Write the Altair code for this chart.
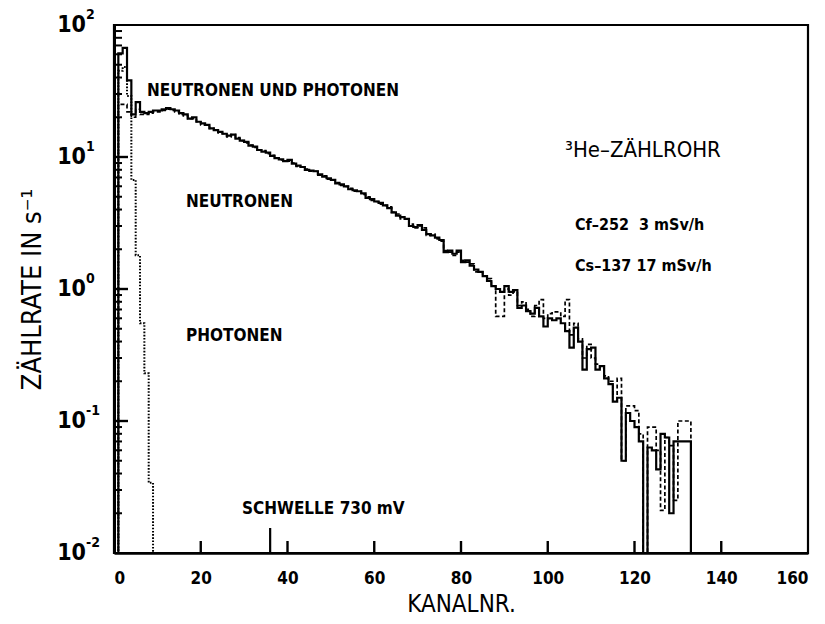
import altair as alt
import pandas as pd

# Pulse-height spectra of a 3He proportional counter (counts per second per channel)
# Bin i covers channels [i, i+1).
neutrons_and_photons = [
    0, 61, 67, 38, 21, 26, 22, 21.5, 22, 22.5,
    22.5, 23, 23.5, 23, 22.5, 21.5, 21, 19.5, 20, 18.5,
    18, 17.5, 16.5, 16, 15.5, 15, 14.5, 14.8, 13.8, 13.3,
    13, 12.2, 12, 11.3, 11, 10.8, 10.2, 9.8, 9.6, 9.3,
    9.5, 8.9, 8.6, 8.4, 8.0, 7.9, 7.8, 7.4, 7.1, 6.9,
    6.7, 6.3, 6.2, 6.0, 5.7, 5.6, 5.5, 5.3, 4.9, 4.8,
    4.6, 4.5, 4.3, 4.1, 3.8, 3.6, 3.5, 3.4, 3.0, 2.95,
    3.05, 2.8, 2.6, 2.55, 2.45, 2.35, 1.9, 1.95, 1.85, 1.95,
    1.6, 1.65, 1.5, 1.4, 1.35, 1.25, 1.15, 1.05, 1.0, 0.95,
    1.05, 0.95, 0.98, 0.72, 0.75, 0.68, 0.65, 0.72, 0.62, 0.52,
    0.6, 0.58, 0.6, 0.55, 0.48, 0.36, 0.51, 0.4, 0.245, 0.35,
    0.36, 0.245, 0.26, 0.21, 0.19, 0.14, 0.15, 0.05, 0.115, 0.1,
    0.09, 0.07, 0, 0.063, 0.06, 0.043, 0.08, 0.075, 0.02, 0.07,
    0.07, 0.07, 0.07,
]

neutrons_only = [
    0, 25, 25, 22, 20, 23, 21, 21, 21.5, 22,
    22, 22.5, 23, 22.5, 22, 21, 20.5, 19.5, 19.5, 18.5,
    17.5, 17.5, 16.5, 16, 15.2, 15, 14.2, 14.8, 14, 13.3,
    12.8, 12.3, 11.8, 11.3, 11.2, 10.6, 10.3, 9.8, 9.5, 9.4,
    9.3, 9.0, 8.5, 8.4, 8.1, 7.8, 7.8, 7.3, 7.2, 6.8,
    6.7, 6.4, 6.1, 6.0, 5.8, 5.5, 5.5, 5.2, 5.0, 4.7,
    4.6, 4.4, 4.3, 4.2, 3.8, 3.7, 3.4, 3.4, 3.1, 2.9,
    3.0, 2.9, 2.55, 2.6, 2.4, 2.3, 1.95, 1.9, 1.8, 1.9,
    1.65, 1.6, 1.55, 1.35, 1.35, 1.25, 1.2, 1.05, 0.62, 0.62,
    1.0, 0.9, 0.95, 0.75, 0.8, 0.7, 0.62, 0.75, 0.83, 0.6,
    0.65, 0.67, 0.67, 0.62, 0.83, 0.45, 0.55, 0.42, 0.3, 0.38,
    0.3, 0.27, 0.25, 0.22, 0.2, 0.16, 0.21, 0.05, 0.13, 0.13,
    0.12, 0.08, 0, 0.09, 0.09, 0.06, 0.021, 0.075, 0.065, 0.025,
    0.1, 0.1, 0.1,
]

photons_only = [0, 45, 48, 29, 6.7, 1.8, 0.55, 0.23, 0.034]

x_ticks = [20, 40, 60, 80, 100, 120, 140]
y_decades = [0.01, 0.1, 1, 10, 100]
y_exponents = ["-2", "-1", "0", "1", "2"]
y_major = [0.1, 1, 10]
y_minor = [m * d for d in (0.01, 0.1, 1, 10) for m in range(2, 10)]
threshold_channel = [36]

COND = "DejaVu Sans Condensed, sans-serif"
NBSP = "\u00a0"
W, H = 694, 528
Y_MIN, Y_MAX = 0.01, 100


def steps(values):
    edges = list(range(len(values) + 1))
    return pd.DataFrame({"kanal": edges, "rate": list(values) + [0]})


x_scale = alt.Scale(domain=[0, 160], nice=False, zero=False)
y_scale = alt.Scale(type="log", domain=[Y_MIN, Y_MAX], nice=False)

x_enc = alt.X(
    "kanal:Q",
    scale=x_scale,
    axis=alt.Axis(
        values=[0, 20, 40, 60, 80, 100, 120, 140, 160],
        ticks=False,
        grid=False,
        domainColor="black",
        domainWidth=2.5,
        labelFont=COND,
        labelFontSize=17,
        labelFontWeight="bold",
        labelColor="black",
        labelPadding=17,
        title="KANALNR.",
        titleFont=COND,
        titleFontSize=24,
        titleFontWeight="normal",
        titleColor="black",
        titlePadding=6,
    ),
)
y_enc = alt.Y(
    "rate_plot:Q",
    scale=y_scale,
    axis=alt.Axis(
        values=y_decades,
        labels=False,
        ticks=False,
        grid=False,
        domainColor="black",
        domainWidth=3,
        title="ZÄHLRATE IN s⁻¹",
        titleFont=COND,
        titleFontSize=27,
        titleFontWeight="normal",
        titleColor="black",
        titleX=-82,
        titleY=H / 2,
        titleAngle=270,
        titleBaseline="middle",
    ),
)


def histogram(values, dash, width):
    return (
        alt.Chart(steps(values))
        .transform_calculate(rate_plot=f"max(datum.rate, {Y_MIN})")
        .mark_line(interpolate="step-after", color="black", strokeWidth=width,
                   strokeDash=dash, clip=True)
        .encode(x=x_enc, y=y_enc, order="kanal:Q")
    )


photon_line = histogram(photons_only, [1.6, 1.6], 2)
neutron_line = histogram(neutrons_only, [4, 2.5], 1.7)
total_line = histogram(neutrons_and_photons, [1, 0], 2.2)

# inward-pointing tick marks on the bottom axis
xtick_layer = (
    alt.Chart(pd.DataFrame({"kanal": x_ticks}))
    .mark_rule(color="black", strokeWidth=2.4)
    .encode(x=alt.X("kanal:Q", scale=x_scale), y=alt.value(H), y2=alt.value(H - 12))
)
threshold_layer = (
    alt.Chart(pd.DataFrame({"kanal": threshold_channel}))
    .mark_rule(color="black", strokeWidth=2.2)
    .encode(x=alt.X("kanal:Q", scale=x_scale), y=alt.value(H), y2=alt.value(H - 25))
)

# inward-pointing tick marks on the left axis
ymajor_layer = (
    alt.Chart(pd.DataFrame({"rate": y_major}))
    .mark_rule(color="black", strokeWidth=2.4)
    .encode(y=alt.Y("rate:Q", scale=y_scale), x=alt.value(0), x2=alt.value(14))
)
yminor_layer = (
    alt.Chart(pd.DataFrame({"rate": y_minor}))
    .mark_rule(color="black", strokeWidth=2)
    .encode(y=alt.Y("rate:Q", scale=y_scale), x=alt.value(0), x2=alt.value(8))
)

# decade labels on the left axis: mantissa "10" with a raised exponent
decade_df = pd.DataFrame({"rate": y_decades, "exp": y_exponents})
ylabel_base = (
    alt.Chart(decade_df)
    .mark_text(text="10", font=COND, fontSize=23, fontWeight="bold", color="black",
               align="right", baseline="middle", clip=False)
    .encode(y=alt.Y("rate:Q", scale=y_scale), x=alt.value(-28))
)
ylabel_exp = (
    alt.Chart(decade_df)
    .mark_text(font=COND, fontSize=14, fontWeight="bold", color="black",
               align="left", baseline="middle", dy=-10, clip=False)
    .encode(y=alt.Y("rate:Q", scale=y_scale), x=alt.value(-28), text="exp:N")
)


def label(text, x, y, size=17, weight="bold"):
    return (
        alt.Chart(alt.Data(values=[{}]))
        .mark_text(text=text, font=COND, fontSize=size, fontWeight=weight,
                   color="black", align="left", baseline="middle")
        .encode(x=alt.value(x), y=alt.value(y))
    )


texts = [
    label("NEUTRONEN UND PHOTONEN", 33, 66),
    label("NEUTRONEN", 72, 177),
    label("PHOTONEN", 72, 311),
    label("SCHWELLE 730 mV", 128, 484),
    label("³He–ZÄHLROHR", 451, 125, size=22, weight="normal"),
    label("Cf–252" + NBSP * 2 + "3 mSv/h", 461, 200, size=16),
    label("Cs–137" + NBSP + "17 mSv/h", 461, 241, size=16),
]

chart = (
    alt.layer(
        photon_line, neutron_line, total_line,
        xtick_layer, threshold_layer, ymajor_layer, yminor_layer,
        ylabel_base, ylabel_exp,
        *texts,
    )
    .properties(
        width=W,
        height=H,
        autosize=alt.AutoSizeParams(type="none"),
        padding={"left": 114, "top": 25, "right": 17, "bottom": 71},
        background="white",
    )
    .configure_view(stroke="black", strokeWidth=2.2)
)

chart.save("out.html", embed_options={"renderer": "svg", "actions": False})
